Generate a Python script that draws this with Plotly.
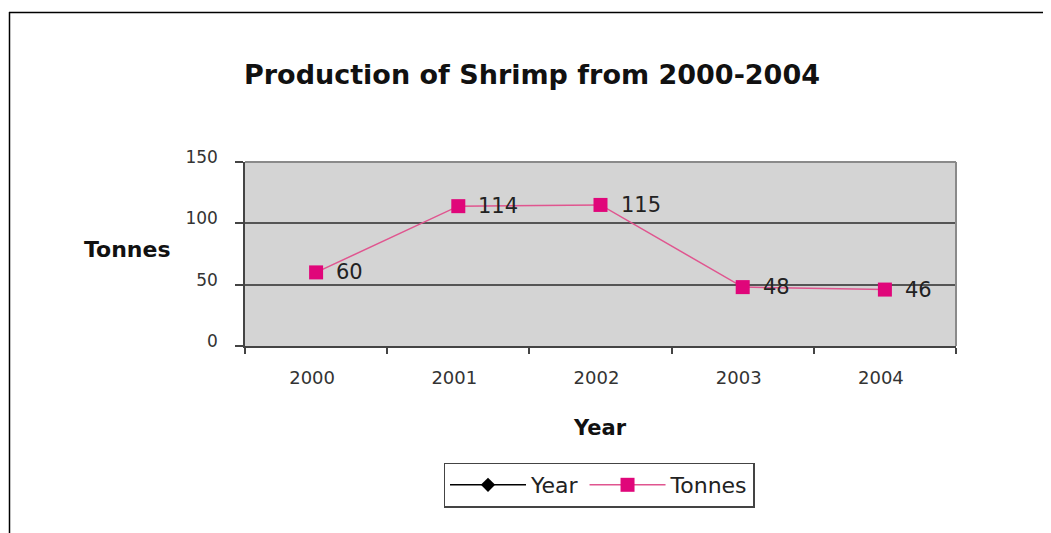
import plotly.graph_objects as go

years = ["2000", "2001", "2002", "2003", "2004"]
year_values = [2000, 2001, 2002, 2003, 2004]
tonnes = [60, 114, 115, 48, 46]
y_ticks = [0, 50, 100, 150]

FONT = "DejaVu Sans, Verdana, Arial"
O = 8  # page body margin offset
W, H = 1051 - O, 533 - O
L, R, T, B = 245 - O, 956 - O, 162 - O, 346 - O
pw, ph = R - L, B - T

def px(x):
    return (x - O - L) / pw

def py(y):
    return (B - (y - O)) / ph

fig = go.Figure()
fig.add_trace(go.Scatter(
    x=years, y=year_values, name="Year", mode="lines+markers",
    line=dict(color="#000000", width=1.5),
    marker=dict(symbol="diamond", size=11, color="#000000"),
))
fig.add_trace(go.Scatter(
    x=years, y=tonnes, name="Tonnes", mode="lines+markers",
    line=dict(color="#e0558f", width=1.5),
    marker=dict(symbol="square", size=14, color="#e0067a"),
    cliponaxis=False,
))

for i, v in enumerate(tonnes):
    fig.add_annotation(x=i, y=v, xref="x", yref="y", text=str(v), showarrow=False,
                       xanchor="left", yanchor="middle", xshift=18,
                       font=dict(family=FONT, size=21, color="#222222"))

fig.update_layout(
    width=W, height=H,
    margin=dict(l=L, r=W - R, t=T, b=H - B, autoexpand=False),
    paper_bgcolor="white", plot_bgcolor="#d4d4d4",
    font=dict(family=FONT, color="#222222"),
    title=dict(text="<b>Production of Shrimp from 2000-2004</b>",
               x=px(532), xref="paper", xanchor="center",
               y=1 - (75 - O) / H, yanchor="middle",
               font=dict(family=FONT, size=27, color="#111111")),
    showlegend=True,
    legend=dict(orientation="h", x=px(599), y=py(485),
                xanchor="center", yanchor="middle",
                bordercolor="#444444", borderwidth=1.5,
                font=dict(family=FONT, size=22, color="#222222"),
                itemwidth=76, tracegroupgap=0, bgcolor="white"),
)

fig.update_xaxes(
    type="category", categoryarray=years, range=[-0.5, len(years) - 0.5],
    tickson="boundaries", ticks="outside", ticklen=6,
    tickcolor="#444444", tickwidth=1.5,
    showline=True, linecolor="#444444", linewidth=1.5,
    showgrid=False, tickfont=dict(family=FONT, size=18, color="#333333"),
    ticklabelstandoff=15, ticklabelshift=-4, tickangle=0,
    title=None,
)
fig.update_yaxes(
    range=[0, 150], tickvals=y_ticks, ticks="outside", ticklen=8,
    tickcolor="#444444", tickwidth=1.5,
    showline=True, linecolor="#444444", linewidth=1.5,
    showgrid=True, gridcolor="#555555", gridwidth=1.5,
    zeroline=False, tickfont=dict(family=FONT, size=17, color="#333333"),
    ticklabelstandoff=14, ticklabelshift=-5,
    title=None,
)

fig.add_annotation(text="<b>Year</b>", xref="paper", yref="paper",
                   x=px(600), y=py(428), xanchor="center", yanchor="middle",
                   showarrow=False, font=dict(family=FONT, size=21, color="#111111"))
fig.add_annotation(text="<b>Tonnes</b>", xref="paper", yref="paper",
                   x=px(127), y=py(249), xanchor="center", yanchor="middle",
                   showarrow=False, font=dict(family=FONT, size=22, color="#111111"))

# plot area top/right border (gray)
fig.add_shape(type="line", xref="paper", yref="paper", x0=0, x1=1, y0=1, y1=1,
              line=dict(color="#8a8a8a", width=2), layer="above")
fig.add_shape(type="line", xref="paper", yref="paper", x0=1, x1=1, y0=0, y1=1,
              line=dict(color="#8a8a8a", width=2), layer="above")

# outer frame (top and left)
fig.add_shape(type="line", xref="paper", yref="paper", x0=px(9), x1=px(1060),
              y0=py(12.5), y1=py(12.5), line=dict(color="#000000", width=1.5))
fig.add_shape(type="line", xref="paper", yref="paper", x0=px(9.5), x1=px(9.5),
              y0=py(12), y1=py(545), line=dict(color="#000000", width=1.5))

fig.write_html("out.html")
